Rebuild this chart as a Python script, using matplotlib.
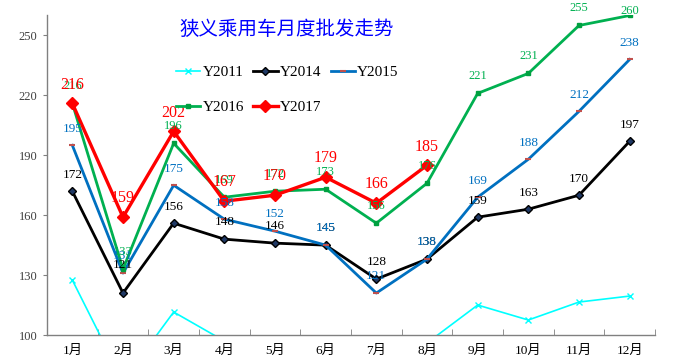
import matplotlib
matplotlib.use("Agg")
import matplotlib.pyplot as plt

plt.rcParams['font.family'] = ['Liberation Serif', 'Noto Sans CJK SC', 'DejaVu Sans']

months = ['1月', '2月', '3月', '4月', '5月', '6月', '7月', '8月', '9月', '10月', '11月', '12月']
y2011 = [127.5, 77, 111.5, 97, 88, 93, 84, 96, 115, 107.5, 116.5, 119.5]
y2014 = [172, 121, 156, 148, 146, 145, 128, 138, 159, 163, 170, 197]
y2015 = [195, 131, 175, 158, 152, 145, 121, 138, 169, 188, 212, 238]
y2016 = [216, 133, 196, 169, 172, 173, 156, 176, 221, 231, 255, 260]
y2017 = [216, 159, 202, 167, 170, 179, 166, 185]

fig = plt.figure(figsize=(6.73, 3.61), dpi=100)
ax = fig.add_axes([47 / 673, 1 - 335 / 361, (655 - 47) / 673, (335 - 14.5) / 361])

x = list(range(12))
x17 = list(range(len(y2017)))

l11, = ax.plot(x, y2011, color='#00FFFF', lw=1.2, marker='x', ms=4, mew=1, zorder=2)
l14, = ax.plot(x, y2014, color='black', lw=2, marker='D', ms=4, mfc='#1F3864', mec='black', zorder=3)
l15, = ax.plot(x, y2015, color='#0070C0', lw=2, marker='_', ms=5, mec='#C0504D', mew=1.5, zorder=4)
l16, = ax.plot(x, y2016, color='#00B050', lw=2, marker='s', ms=3.5, mfc='#00A040', mec='#00A040', zorder=5)
l17, = ax.plot(x17, y2017, color='#FF0000', lw=2.4, marker='D', ms=6, zorder=6)

# data labels (offsets in points)
def labels(vals, color, size, off=12, special=None, z=7):
    special = special or {}
    for i, v in enumerate(vals):
        ax.annotate(str(v), (i, v), xytext=(0, special.get(i, off)), textcoords='offset points',
                    ha='center', va='center', color=color, fontsize=size, zorder=z,
                    annotation_clip=False)

labels(y2014, 'black', 9.5, special={1: 20})
labels(y2015, '#0070C0', 9.5)
labels(y2016, '#00B050', 9, off=12.5, special={11: 3})
labels(y2017, '#FF0000', 11.5, off=13.5, z=8)

ax.set_xlim(-0.5, 11.5)
ax.set_ylim(100, 260.5)
ax.set_yticks([100, 130, 160, 190, 220, 250])
ax.set_xticks(x)
ax.set_xticklabels(months)
ax.set_xticks([i - 0.5 for i in range(13)], minor=True)
ax.tick_params(axis='x', which='major', length=0, pad=7, labelsize=9.5)
ax.tick_params(axis='x', which='minor', length=4, direction='in', color='#808080')
ax.tick_params(axis='y', length=3, direction='out', color='#808080', labelsize=9, labelcolor='#404040', pad=4)

for s in ['top', 'right']:
    ax.spines[s].set_visible(False)
for s in ['left', 'bottom']:
    ax.spines[s].set_color('#808080')
    ax.spines[s].set_linewidth(1)

fig.text(0.426, 0.918, '狭义乘用车月度批发走势', color='#0000FF', fontsize=14,
         family=['Noto Sans CJK SC'], ha='center', va='center')

# legend laid out row by row: 2011 2014 2015 / 2016 2017
handles = [l11, l16, l14, l17, l15]
names = ['Y2011', 'Y2016', 'Y2014', 'Y2017', 'Y2015']
fig.legend(handles, names, ncol=3, loc='upper left', bbox_to_anchor=(165 / 673, 1 - 55 / 361),
           frameon=False, fontsize=11, handlelength=1.6, handletextpad=0.15,
           columnspacing=0.6, labelspacing=1.4, numpoints=1, borderpad=0.2)

fig.savefig('out.png', dpi=100)
